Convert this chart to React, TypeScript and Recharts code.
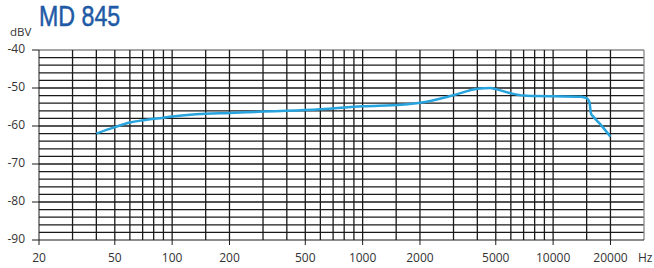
import { LineChart, Line, XAxis, YAxis, ReferenceLine } from "recharts"

// frequency response
const freqs = [40, 50, 60, 70, 90, 100, 150, 200, 300, 400, 600, 1000, 1600, 2000, 3000, 4000, 4700, 5000, 6000, 7000, 8000, 10000, 14000, 15000, 15500, 15800, 16300, 17800, 20000]
const levels = [-62.0, -60.3, -59.1, -58.5, -57.8, -57.5, -56.8, -56.6, -56.2, -56.0, -55.6, -54.8, -54.4, -53.9, -51.9, -50.2, -50.0, -50.3, -51.4, -52.0, -52.1, -52.2, -52.3, -52.7, -53.6, -56.7, -57.6, -59.7, -62.8]

const xTicks = [20, 50, 100, 200, 500, 1000, 2000, 5000, 10000, 20000]
const yTicks = [-90, -80, -70, -60, -50, -40]
const gridFreqs = [30, 40, 50, 60, 70, 80, 90, 100, 150, 200, 300, 400, 500, 600, 700, 800, 900, 1000, 1500, 2000, 3000, 4000, 5000, 6000, 7000, 8000, 9000, 10000, 15000, 20000, 30000]
const gridLevels = [-88, -86, -84, -82, -80, -78, -76, -74, -72, -70, -68, -66, -64, -62, -60, -58, -56, -54, -52, -50, -48, -46, -44, -42, -40]

const data = freqs.map((f, i) => ({ f, v: levels[i] }))

const font = "'Open Sans', sans-serif"
const gridColor = "#1a1a1a"

export default function App() {
  return (
    <div style={{ position: "absolute", left: 0, top: 0, width: 654, height: 268, background: "#fff" }}>
      <div
        style={{
          position: "absolute",
          left: 39,
          top: 0,
          fontFamily: "'Liberation Sans', Arial, sans-serif",
          fontSize: 29,
          color: "#1f5aa6",
          lineHeight: "32px",
          whiteSpace: "nowrap",
          transform: "scaleX(0.8)",
          transformOrigin: "left top",
          WebkitTextStroke: "0.5px #1f5aa6",
        }}
      >
        MD 845
      </div>
      <div style={{ position: "absolute", left: 10, top: 24, fontFamily: font, fontSize: 11.5, color: "#333" }}>dBV</div>
      <div style={{ position: "absolute", left: 638, top: 249, fontFamily: font, fontSize: 12, color: "#333" }}>Hz</div>
      <LineChart width={654} height={268} data={data} margin={{ top: 50, right: 10, bottom: 0, left: 0 }}>
        {gridLevels.map((l) => (
          <ReferenceLine key={"h" + l} y={l} stroke={l === -40 ? "#888" : gridColor} strokeWidth={1.3} />
        ))}
        {gridFreqs.map((f) => (
          <ReferenceLine key={"v" + f} x={f} stroke={f === 30000 ? "#888" : gridColor} strokeWidth={1.3} />
        ))}
        <XAxis
          dataKey="f"
          type="number"
          scale="log"
          domain={[20, 30000]}
          ticks={xTicks}
          height={28}
          tickSize={5}
          tickMargin={8}
          stroke={gridColor}
          tick={{ fill: "#333", fontSize: 12, fontFamily: font }}
          allowDataOverflow
        />
        <YAxis
          type="number"
          domain={[-90, -40]}
          ticks={yTicks}
          width={39}
          tickSize={7}
          tickMargin={7}
          stroke={gridColor}
          tick={{ fill: "#333", fontSize: 12, fontFamily: font, dy: -1 }}
        />
        <Line type="monotone" dataKey="v" stroke="#27a3dd" strokeWidth={2.5} dot={false} isAnimationActive={false} />
      </LineChart>
    </div>
  )
}
